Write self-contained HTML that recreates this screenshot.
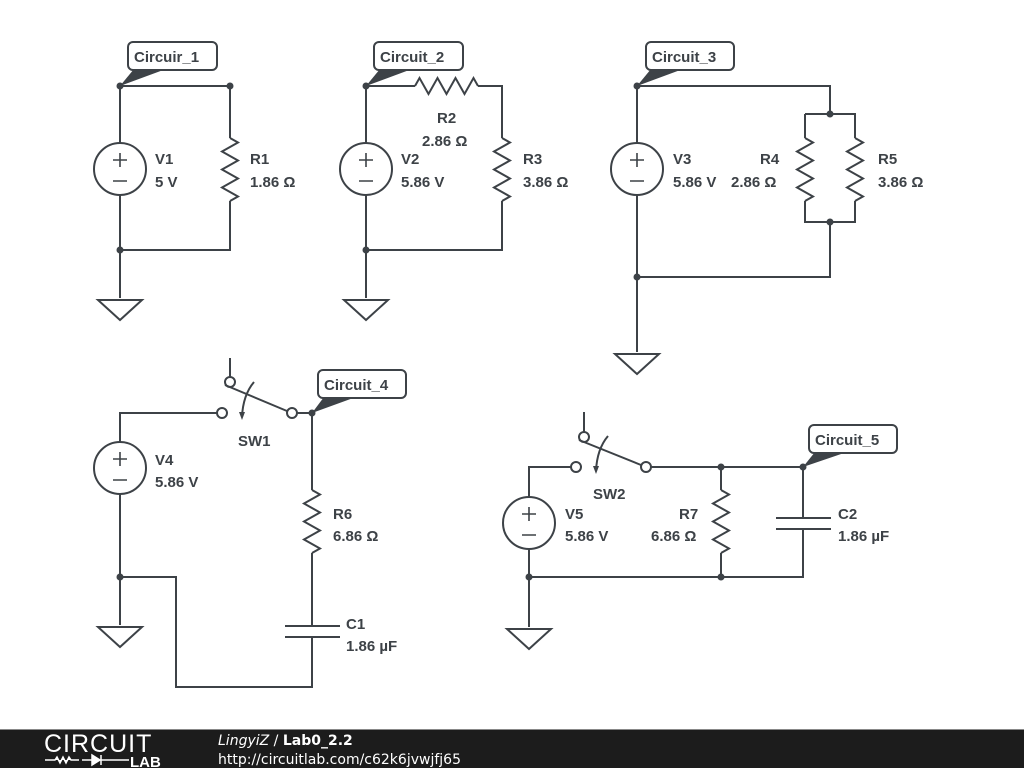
<!DOCTYPE html>
<html><head><meta charset="utf-8"><style>
body{margin:0;width:1024px;height:768px;background:#fff;overflow:hidden;font-family:"Liberation Sans",Arial,sans-serif}
svg{position:absolute;left:0;top:0}
.w{stroke:#3d4247;stroke-width:2;fill:none}
.t,.lb{font-family:"Liberation Sans",Arial,sans-serif;font-weight:bold;font-size:15px;fill:#3d4247}
</style></head><body>
<svg width="1024" height="768" viewBox="0 0 1024 768">
<defs>
<path id="zv" d="M0,0 l8,4.5 l-16,9 l16,9 l-16,9 l16,9 l-16,9 l16,9 l-8,4.5"/>
</defs>
<g class="w">
<!-- Circuit 1 -->
<path d="M120,86 H230 V138 M230,201 V250 H120 M120,86 V143 M120,195 V298"/>
<use href="#zv" x="230" y="138"/>
<circle cx="120" cy="169" r="26"/>
<path d="M98,300 H142 L120,320 Z"/>
<!-- Circuit 2 -->
<path d="M366,86 H415 M478,86 H502 V138 M502,201 V250 H366 M366,86 V143 M366,195 V298"/>
<path d="M415,86 l4.5,-8 l9,16 l9,-16 l9,16 l9,-16 l9,16 l9,-16 l4.5,8"/>
<use href="#zv" x="502" y="138"/>
<circle cx="366" cy="169" r="26"/>
<path d="M344,300 H388 L366,320 Z"/>
<!-- Circuit 3 -->
<path d="M637,86 H830 V114 M805,114 H855 V138 M805,114 V138 M805,201 V222 H855 V201 M830,222 V277 H637 M637,86 V143 M637,195 V352"/>
<use href="#zv" x="805" y="138"/>
<use href="#zv" x="855" y="138"/>
<circle cx="637" cy="169" r="26"/>
<path d="M615,354 H659 L637,374 Z"/>
<!-- Circuit 4 -->
<path d="M120,442 V413 H217 M297,413 H312 V490 M312,553 V626 M312,637 V687 H176 V577 H120 M120,494 V625"/>
<use href="#zv" x="312" y="490"/>
<path d="M285,626 H340 M285,637 H340"/>
<circle cx="120" cy="468" r="26"/>
<path d="M98,627 H142 L120,647 Z"/>
<circle cx="222" cy="413" r="5" fill="#fff"/>
<circle cx="292" cy="413" r="5" fill="#fff"/>
<circle cx="230" cy="382" r="5" fill="#fff"/>
<path d="M230,377 V358 M225,385 L287,411"/>
<path d="M254,382 Q243,395 242,417"/>
<!-- Circuit 5 -->
<path d="M529,497 V467 H571 M651,467 H803 V518 M803,529 V577 H529 M529,549 V627 M721,467 V490 M721,553 V577"/>
<use href="#zv" x="721" y="490"/>
<path d="M776,518 H831 M776,529 H831"/>
<circle cx="529" cy="523" r="26"/>
<path d="M507,629 H551 L529,649 Z"/>
<circle cx="576" cy="467" r="5" fill="#fff"/>
<circle cx="646" cy="467" r="5" fill="#fff"/>
<circle cx="584" cy="437" r="5" fill="#fff"/>
<path d="M584,432 V412 M579,440 L641,465"/>
<path d="M608,436 Q597,449 596,471"/>
</g>
<g fill="#3d4247">
<path d="M239,412 l3,8 l3,-8 z"/>
<path d="M593,466 l3,8 l3,-8 z"/>
<g stroke="#3d4247" stroke-width="1.6">
<path d="M113,160 h14 M120,153 v14 M113,181 h14"/>
<path d="M359,160 h14 M366,153 v14 M359,181 h14"/>
<path d="M630,160 h14 M637,153 v14 M630,181 h14"/>
<path d="M113,459 h14 M120,452 v14 M113,480 h14"/>
<path d="M522,514 h14 M529,507 v14 M522,535 h14"/>
</g>
<circle cx="120" cy="86" r="3.5"/><circle cx="230" cy="86" r="3.5"/><circle cx="120" cy="250" r="3.5"/>
<circle cx="366" cy="86" r="3.5"/><circle cx="366" cy="250" r="3.5"/>
<circle cx="637" cy="86" r="3.5"/><circle cx="830" cy="114" r="3.5"/><circle cx="830" cy="222" r="3.5"/><circle cx="637" cy="277" r="3.5"/>
<circle cx="312" cy="413" r="3.5"/><circle cx="120" cy="577" r="3.5"/>
<circle cx="721" cy="467" r="3.5"/><circle cx="803" cy="467" r="3.5"/><circle cx="721" cy="577" r="3.5"/><circle cx="529" cy="577" r="3.5"/>
<path d="M120,86 L134,69 L166,69 Z"/>
<path d="M366,86 L380,69 L412,69 Z"/>
<path d="M637,86 L651,69 L683,69 Z"/>
<path d="M312,413 L324,397 L356,397 Z"/>
<path d="M803,467 L815,452 L847,452 Z"/>
</g>
<g fill="#fff" stroke="#3d4247" stroke-width="2">
<rect x="128" y="42" width="89" height="28" rx="5"/>
<rect x="374" y="42" width="89" height="28" rx="5"/>
<rect x="646" y="42" width="88" height="28" rx="5"/>
<rect x="318" y="370" width="88" height="28" rx="5"/>
<rect x="809" y="425" width="88" height="28" rx="5"/>
</g>
<g class="lb">
<text x="134" y="62">Circuir_1</text>
<text x="380" y="62">Circuit_2</text>
<text x="652" y="62">Circuit_3</text>
<text x="324" y="390">Circuit_4</text>
<text x="815" y="445">Circuit_5</text>
</g>
<g class="t">
<text x="155" y="164">V1</text><text x="155" y="187">5 V</text>
<text x="250" y="164">R1</text><text x="250" y="187">1.86 Ω</text>
<text x="401" y="164">V2</text><text x="401" y="187">5.86 V</text>
<text x="437" y="123">R2</text><text x="422" y="146">2.86 Ω</text>
<text x="523" y="164">R3</text><text x="523" y="187">3.86 Ω</text>
<text x="673" y="164">V3</text><text x="673" y="187">5.86 V</text>
<text x="760" y="164">R4</text><text x="731" y="187">2.86 Ω</text>
<text x="878" y="164">R5</text><text x="878" y="187">3.86 Ω</text>
<text x="155" y="465">V4</text><text x="155" y="487">5.86 V</text>
<text x="238" y="446">SW1</text>
<text x="333" y="519">R6</text><text x="333" y="541">6.86 Ω</text>
<text x="346" y="629">C1</text><text x="346" y="651">1.86 µF</text>
<text x="565" y="519">V5</text><text x="565" y="541">5.86 V</text>
<text x="593" y="499">SW2</text>
<text x="679" y="519">R7</text><text x="651" y="541">6.86 Ω</text>
<text x="838" y="519">C2</text><text x="838" y="541">1.86 µF</text>
</g>
<rect x="0" y="729" width="1024" height="39" fill="#1c1c1c"/>
<rect x="0" y="729" width="1024" height="1" fill="#888"/>
<text x="44" y="752" style="font-family:'Liberation Sans',Arial,sans-serif;font-size:25px" fill="#fff" letter-spacing="1">CIRCUIT</text>
<path d="M45,760 h10 l2,-3 l3,6 l3,-6 l3,6 l3,-6 l2,3 h8 M82,760 h18 M92,755 v10 l8,-5 z M101,755 v10 M101,760 h28" stroke="#fff" stroke-width="1.5" fill="#fff"/>
<text x="130" y="767" style="font-family:'Liberation Sans',Arial,sans-serif;font-size:15px;font-weight:bold" fill="#fff">LAB</text>
<text x="218" y="745" font-family="DejaVu Sans" font-size="14" fill="#fff"><tspan font-style="italic">LingyiZ</tspan> / <tspan font-weight="bold">Lab0_2.2</tspan></text>
<text x="218" y="764" font-family="DejaVu Sans" font-size="14" fill="#fff">http://circuitlab.com/c62k6jvwjfj65</text>
</svg>
</body></html>
